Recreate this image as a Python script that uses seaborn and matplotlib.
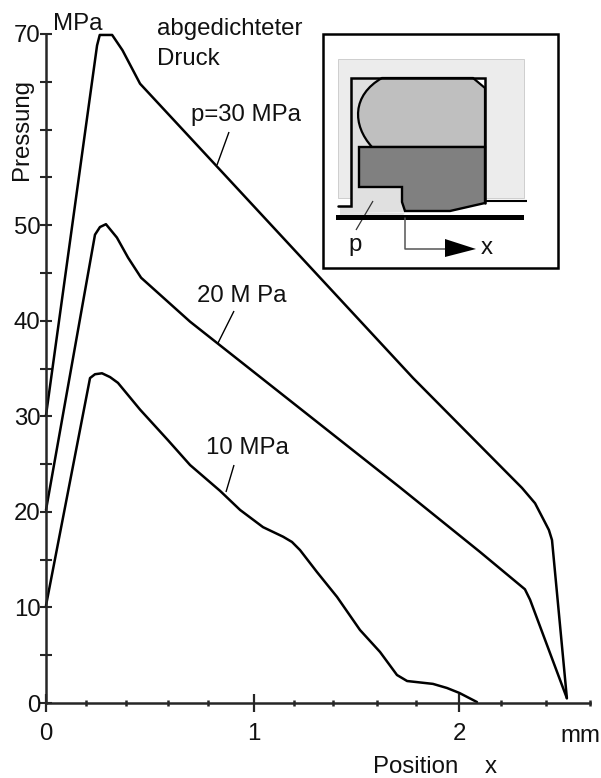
#!/usr/bin/env python3
import matplotlib
matplotlib.use('Agg')
import matplotlib.pyplot as plt
from matplotlib.patches import Polygon, PathPatch, Rectangle
from matplotlib.path import Path
import pandas as pd
import seaborn as sns

# curve values
x_30 = [0, 0.247, 0.26, 0.32, 0.37, 0.455, 0.82, 1.776, 2.303, 2.366, 2.414, 2.433, 2.448, 2.52]
y_30 = [30.1, 68.8, 69.9, 69.9, 68.3, 64.8, 56.3, 34.0, 22.5, 20.9, 18.9, 18.1, 17.05, 0.5]
x_20 = [0, 0.237, 0.261, 0.29, 0.343, 0.397, 0.46, 0.697, 1.71, 2.10, 2.317, 2.342, 2.52]
y_20 = [20.2, 49.0, 49.8, 50.1, 48.7, 46.6, 44.5, 39.9, 22.6, 15.8, 11.9, 10.8, 0.5]
x_10 = [0, 0.213, 0.237, 0.271, 0.31, 0.348, 0.455, 0.59, 0.697, 0.842, 0.939, 1.05, 1.147,
        1.19, 1.229, 1.311, 1.408, 1.519, 1.616, 1.698, 1.747, 1.872, 1.94, 2.0, 2.085]
y_10 = [10.2, 34.0, 34.4, 34.5, 34.1, 33.5, 30.7, 27.5, 24.9, 22.2, 20.2, 18.4, 17.4,
        16.85, 16.0, 13.7, 11.1, 7.64, 5.34, 2.93, 2.3, 2.0, 1.57, 1.05, 0.1]

y_ticks = list(range(0, 75, 5))
y_labels = ['0', '', '10', '', '20', '', '30', '', '40', '', '50', '', '', '', '70']
x_major = [0, 1.006, 2.0]
x_labels = ['0', '1', '2']
x_minor = [0.195, 0.387, 0.59, 0.784, 1.2, 1.39, 1.6, 1.79]
x_end = [2.2, 2.42, 2.63]

W, H = 601, 778
AX_L, AX_R, AX_T, AX_B = 46, 590, 34, 703
FONT = 'Liberation Sans'
FS = 17.3

sns.set_theme(style='ticks')
plt.rcParams['font.family'] = [FONT, 'DejaVu Sans']

fig = plt.figure(figsize=(W / 100, H / 100), dpi=100, facecolor='white')
ax = fig.add_axes([AX_L / W, (H - AX_B) / H, (AX_R - AX_L) / W, (AX_B - AX_T) / H])

frames = []
for name, xs, ys in [('30', x_30, y_30), ('20', x_20, y_20), ('10', x_10, y_10)]:
    frames.append(pd.DataFrame({'x': xs, 'y': ys, 'curve': name}))
df = pd.concat(frames, ignore_index=True)
sns.lineplot(data=df, x='x', y='y', units='curve', estimator=None, sort=False,
             color='black', linewidth=1.8, ax=ax, clip_on=False)

ax.set_xlim(0, (AX_R - AX_L) / 206.7)
ax.set_ylim(0, 70)
ax.set_xlabel('')
ax.set_ylabel('')
sns.despine(ax=ax)
ax.spines['left'].set_linewidth(1.8)
ax.spines['bottom'].set_linewidth(1.8)
ax.patch.set_alpha(0)

ax.set_yticks(y_ticks)
ax.set_yticklabels(y_labels, fontsize=FS, color='#111111')
ax.tick_params(axis='y', direction='inout', length=8, width=1.5, pad=0)
ax.set_xticks(x_major)
ax.set_xticklabels(x_labels, fontsize=FS, color='#111111')
ax.tick_params(axis='x', direction='inout', length=13, width=1.6, pad=8)
ax.set_xticks(x_minor + x_end, minor=True)
ax.tick_params(axis='x', which='minor', direction='inout', length=5, width=1.8)

# overlay in picture pixels for the labels and the little seal sketch
ov = fig.add_axes([0, 0, 1, 1], zorder=5)
ov.set_xlim(0, W)
ov.set_ylim(H, 0)
ov.axis('off')


def label(x, y, s, **kw):
    kw.setdefault('ha', 'left')
    kw.setdefault('va', 'baseline')
    ov.text(x, y, s, fontsize=FS, color='#111111', **kw)


def stroke(xs, ys, lw=1.8, color='black'):
    ov.plot(xs, ys, color=color, lw=lw, solid_capstyle='butt', solid_joinstyle='miter')


label(53, 30, 'MPa')
label(157, 35, 'abgedichteter')
label(157, 65, 'Druck')
label(191, 121, 'p=30 MPa')
label(197, 302, '20 M Pa')
label(206, 454, '10 MPa')
label(28, 180, 'Pressung', rotation=90, rotation_mode='anchor')
label(373, 773, 'Position')
label(485, 773, 'x')
label(560, 742, 'mm')

# leaders from the curves to their labels
stroke([217, 229], [165, 132], lw=1.0)
stroke([218, 234], [343, 311], lw=1.0)
stroke([226, 234], [492, 465], lw=1.0)

# sketch
ov.add_patch(Rectangle((323, 34), 235, 234, fc='white', ec='black', lw=1.8))
ov.add_patch(Rectangle((338, 59), 186, 139, fc='#ececec', ec='#c8c8c8', lw=0.6))
ov.add_patch(Polygon([(351, 78), (485, 78), (485, 203), (450, 212), (405, 212),
                      (402, 218), (340, 218), (340, 206), (351, 206)],
                     fc='#e0e0e0', ec='none'))
ov.add_patch(Polygon([(340, 213), (526, 213), (526, 201), (485, 201), (450, 212)],
                     fc='white', ec='none', zorder=1.5))
ov.add_patch(Polygon([(473, 78), (485, 78), (485, 88)], fc='white', ec='none', zorder=1.8))
seal = Path([(382, 78), (473, 78), (485, 88), (485, 147), (372, 147),
             (352, 125), (352, 95), (382, 78), (382, 78)],
            [Path.MOVETO, Path.LINETO, Path.LINETO, Path.LINETO, Path.LINETO,
             Path.CURVE4, Path.CURVE4, Path.CURVE4, Path.CLOSEPOLY])
ov.add_patch(PathPatch(seal, fc='#bfbfbf', ec='black', lw=1.6, zorder=2))
ov.add_patch(Polygon([(359, 147), (485, 147), (485, 203), (450, 211), (405, 211),
                      (402, 202), (402, 187), (359, 187)],
                     fc='#808080', ec='black', lw=1.7, zorder=2.2))
ov.plot([338, 351, 351, 485, 485], [206, 206, 78, 78, 203], color='black', lw=1.8,
        solid_joinstyle='miter', zorder=3)
stroke([485, 527], [200.5, 200.5], lw=1.5)
ov.add_patch(Rectangle((336, 215), 188, 5, fc='black', ec='none', zorder=3))
ov.plot([405, 405, 446], [218, 249, 249], color='#555555', lw=1.1, zorder=3)
ov.add_patch(Polygon([(445, 239), (476, 249), (445, 257)], fc='black', ec='none', zorder=3))
label(481, 254, 'x')
label(348, 251, 'p')
stroke([356, 373], [230, 201], lw=0.9, color='#333333')

fig.savefig('out.png', dpi=100)
